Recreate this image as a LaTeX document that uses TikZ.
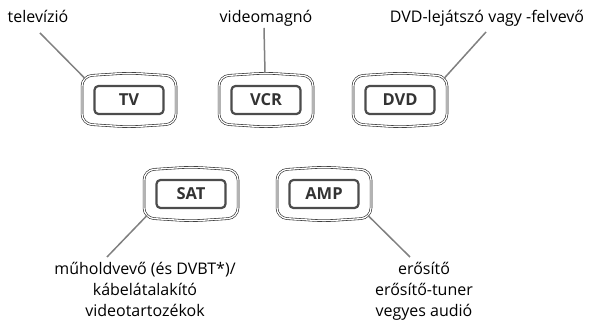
\documentclass[tikz,border=0pt]{standalone}
\usepackage{fontspec}
\setmainfont{Open Sans}

\begin{document}
\begin{tikzpicture}[x=1pt,y=1pt,rim/.style={draw=black!85,line width=0.6pt,double=white,double distance=1.3pt,rounded corners=10pt},keycap/.style={rectangle,draw=black!70,line width=2.2pt,rounded corners=4pt,minimum width=69pt,minimum height=28pt,inner sep=0pt,font=\fontsize{16.5}{16.5}\selectfont\bfseries,text=black!80},caption/.style={font=\fontsize{16}{21}\selectfont,align=center,inner sep=0pt,anchor=base},leader/.style={draw=black!50,line width=1.5pt}]
\useasboundingbox (0,0) rectangle (592,323);
\coordinate (TV) at (129,223);
\coordinate (VCR) at (266,223);
\coordinate (DVD) at (400,223);
\coordinate (SAT) at (191,129);
\coordinate (AMP) at (324,129);
\coordinate (TVend) at ([shift={(-44,21.5)}]TV);
\coordinate (VCRend) at ([shift={(-1,27)}]VCR);
\coordinate (DVDend) at ([shift={(44,21.5)}]DVD);
\coordinate (SATend) at ([shift={(-44,-21.5)}]SAT);
\coordinate (AMPend) at ([shift={(44,-21.5)}]AMP);
\draw[rim] (TV) ++(-47,0) -- ++(0,24) -- ++(47,3) -- ++(47,-3) -- ++(0,-48) -- ++(-47,-3) -- ++(-47,3) -- cycle;
\draw[rim] (VCR) ++(-47,0) -- ++(0,24) -- ++(47,3) -- ++(47,-3) -- ++(0,-48) -- ++(-47,-3) -- ++(-47,3) -- cycle;
\draw[rim] (DVD) ++(-47,0) -- ++(0,24) -- ++(47,3) -- ++(47,-3) -- ++(0,-48) -- ++(-47,-3) -- ++(-47,3) -- cycle;
\draw[rim] (SAT) ++(-47,0) -- ++(0,24) -- ++(47,3) -- ++(47,-3) -- ++(0,-48) -- ++(-47,-3) -- ++(-47,3) -- cycle;
\draw[rim] (AMP) ++(-47,0) -- ++(0,24) -- ++(47,3) -- ++(47,-3) -- ++(0,-48) -- ++(-47,-3) -- ++(-47,3) -- cycle;
\node[keycap] (tvkey) at (TV) {TV};
\node[keycap] (vcrkey) at (VCR) {VCR};
\node[keycap] (dvdkey) at (DVD) {DVD};
\node[keycap] (satkey) at (SAT) {SAT};
\node[keycap] (ampkey) at (AMP) {AMP};
\node[caption] (tvtxt) at (38,300) {televízió};
\node[caption] (vcrtxt) at (266,300) {videomagnó};
\node[caption] (dvdtxt) at (487,300) {DVD-lejátszó vagy -felvevő};
\node[caption] (sattxt) at (145,6) {műholdvevő (és DVBT*)/\\kábelátalakító\\videotartozékok};
\node[caption] (amptxt) at (424,6) {erősítő\\erősítő-tuner\\vegyes audió};
\draw[leader] ([xshift=2pt,yshift=-10pt]tvtxt.base) -- (TVend);
\draw[leader] ([xshift=-2pt,yshift=-5pt]vcrtxt.base) -- (VCRend);
\draw[leader] ([xshift=-1pt,yshift=-9pt]dvdtxt.base) -- (DVDend);
\draw[leader] (SATend) -- ([xshift=-38pt,yshift=60pt]sattxt.base);
\draw[leader] (AMPend) -- ([xshift=-14pt,yshift=60pt]amptxt.base);
\end{tikzpicture}
\end{document}
